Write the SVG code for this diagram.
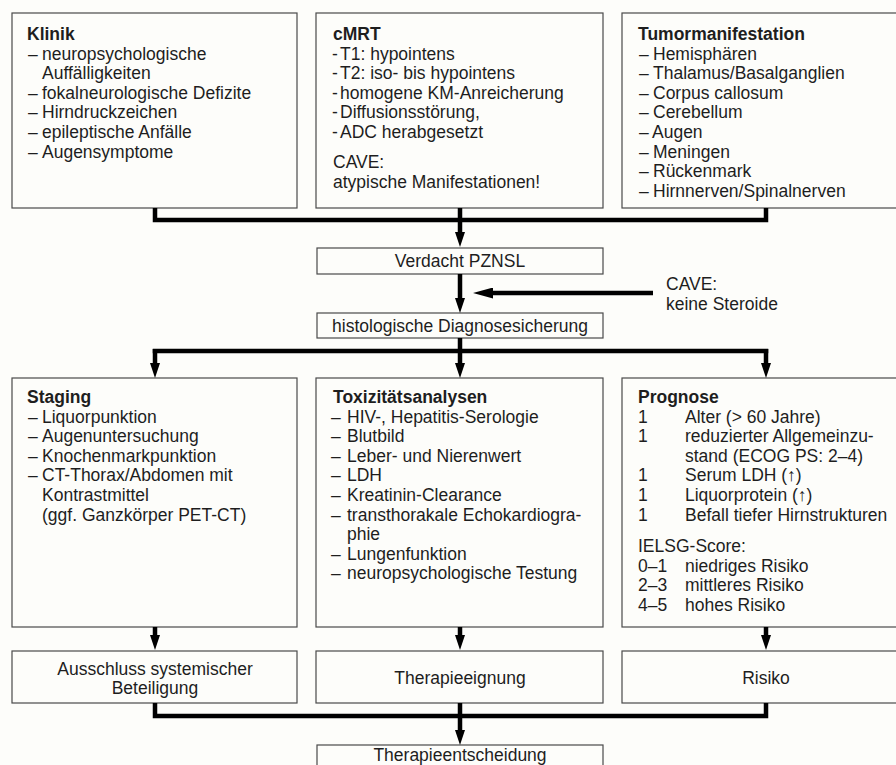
<svg xmlns="http://www.w3.org/2000/svg" width="896" height="765" viewBox="0 0 896 765">
<style>
.box{fill:#fdfdfa;stroke:#4a4a4a;stroke-width:1.2}
text{font-family:"Liberation Sans",Arial,sans-serif;font-size:17.5px;fill:#1e1e1e}
.b{font-weight:bold}
.c{text-anchor:middle}
.ln{fill:none;stroke:#000;stroke-width:4.5}
</style>
<defs>
<marker id="ah" markerUnits="userSpaceOnUse" markerWidth="15" markerHeight="10" refX="1" refY="5" orient="auto">
<path d="M0,0 L15,5 L0,10 z" fill="#000"/>
</marker>
<marker id="ah2" markerUnits="userSpaceOnUse" markerWidth="20" markerHeight="11" refX="1" refY="5.5" orient="auto">
<path d="M0,0 L20,5.5 L0,11 z" fill="#000"/>
</marker>
</defs>
<rect x="0" y="0" width="896" height="765" fill="#fdfdfa"/>

<g id="klinik">
<rect class="box" x="12" y="13" width="285" height="195"/>
<text class="b" x="27" y="40">Klinik</text>
<text x="28" y="59.6">–</text><text x="42" y="59.6">neuropsychologische</text>
<text x="42" y="79.2">Auffälligkeiten</text>
<text x="28" y="98.8">–</text><text x="42" y="98.8">fokalneurologische Defizite</text>
<text x="28" y="118.4">–</text><text x="42" y="118.4">Hirndruckzeichen</text>
<text x="28" y="138">–</text><text x="42" y="138">epileptische Anfälle</text>
<text x="28" y="157.6">–</text><text x="42" y="157.6">Augensymptome</text>
</g>

<g id="cmrt">
<rect class="box" x="316" y="13" width="287" height="195"/>
<text class="b" x="333" y="40">cMRT</text>
<text x="332" y="59.6">-</text><text x="340" y="59.6">T1: hypointens</text>
<text x="332" y="79.2">-</text><text x="340" y="79.2">T2: iso- bis hypointens</text>
<text x="332" y="98.8">-</text><text x="340" y="98.8">homogene KM-Anreicherung</text>
<text x="332" y="118.4">-</text><text x="340" y="118.4">Diffusionsstörung,</text>
<text x="332" y="138">-</text><text x="340" y="138">ADC herabgesetzt</text>
<text x="333" y="168">CAVE:</text>
<text x="333" y="187.6">atypische Manifestationen!</text>
</g>

<g id="tumor">
<rect class="box" x="622" y="13" width="288" height="195"/>
<text class="b" x="638" y="40">Tumormanifestation</text>
<text x="639" y="59.6">–</text><text x="653" y="59.6">Hemisphären</text>
<text x="639" y="79.2">–</text><text x="653" y="79.2">Thalamus/Basalganglien</text>
<text x="639" y="98.8">–</text><text x="653" y="98.8">Corpus callosum</text>
<text x="639" y="118.4">–</text><text x="653" y="118.4">Cerebellum</text>
<text x="639" y="138">–</text><text x="652" y="138">Augen</text>
<text x="639" y="157.6">–</text><text x="653" y="157.6">Meningen</text>
<text x="639" y="177.2">–</text><text x="653" y="177.2">Rückenmark</text>
<text x="639" y="196.8">–</text><text x="653" y="196.8">Hirnnerven/Spinalnerven</text>
</g>

<g id="verdacht">
<rect class="box" x="317" y="248" width="286" height="26"/>
<text class="c" x="460" y="267">Verdacht PZNSL</text>
</g>

<g id="cave">
<text x="666" y="290">CAVE:</text>
<text x="666" y="310">keine Steroide</text>
</g>

<g id="histologie">
<rect class="box" x="317" y="313" width="286" height="25"/>
<text class="c" x="460" y="332">histologische Diagnosesicherung</text>
</g>

<g id="staging">
<rect class="box" x="12" y="378" width="285" height="249"/>
<text class="b" x="27" y="403">Staging</text>
<text x="28" y="422.6">–</text><text x="42" y="422.6">Liquorpunktion</text>
<text x="28" y="442.2">–</text><text x="42" y="442.2">Augenuntersuchung</text>
<text x="28" y="461.8">–</text><text x="42" y="461.8">Knochenmarkpunktion</text>
<text x="28" y="481.4">–</text><text x="42" y="481.4">CT-Thorax/Abdomen mit</text>
<text x="42" y="501">Kontrastmittel</text>
<text x="42" y="520.6">(ggf. Ganzkörper PET-CT)</text>
</g>

<g id="toxizitaet">
<rect class="box" x="316" y="378" width="287" height="249"/>
<text class="b" x="333" y="403">Toxizitätsanalysen</text>
<text x="331" y="422.6">–</text><text x="347" y="422.6">HIV-, Hepatitis-Serologie</text>
<text x="331" y="442.2">–</text><text x="347" y="442.2">Blutbild</text>
<text x="331" y="461.8">–</text><text x="347" y="461.8">Leber- und Nierenwert</text>
<text x="331" y="481.4">–</text><text x="347" y="481.4">LDH</text>
<text x="331" y="501">–</text><text x="347" y="501">Kreatinin-Clearance</text>
<text x="331" y="520.6">–</text><text x="347" y="520.6">transthorakale Echokardiogra-</text>
<text x="347" y="540.2">phie</text>
<text x="331" y="559.8">–</text><text x="347" y="559.8">Lungenfunktion</text>
<text x="331" y="579.4">–</text><text x="347" y="579.4">neuropsychologische Testung</text>
</g>

<g id="prognose">
<rect class="box" x="622" y="378" width="288" height="249"/>
<text class="b" x="638" y="403">Prognose</text>
<text x="638" y="422.6">1</text><text x="685" y="422.6">Alter (&gt; 60 Jahre)</text>
<text x="638" y="442.2">1</text><text x="685" y="442.2">reduzierter Allgemeinzu-</text>
<text x="685" y="461.8">stand (ECOG PS: 2–4)</text>
<text x="638" y="481.4">1</text><text x="685" y="481.4">Serum LDH (↑)</text>
<text x="638" y="501">1</text><text x="685" y="501">Liquorprotein (↑)</text>
<text x="638" y="520.6">1</text><text x="685" y="520.6">Befall tiefer Hirnstrukturen</text>
<text x="638" y="552">IELSG-Score:</text>
<text x="638" y="571.6">0–1</text><text x="685" y="571.6">niedriges Risiko</text>
<text x="638" y="591.2">2–3</text><text x="685" y="591.2">mittleres Risiko</text>
<text x="638" y="610.8">4–5</text><text x="685" y="610.8">hohes Risiko</text>
</g>

<g id="ausschluss">
<rect class="box" x="12" y="651" width="285" height="52"/>
<text class="c" x="155" y="675">Ausschluss systemischer</text>
<text class="c" x="155" y="694">Beteiligung</text>
</g>

<g id="therapieeignung">
<rect class="box" x="316" y="651" width="287" height="52"/>
<text class="c" x="460" y="684">Therapieeignung</text>
</g>

<g id="risiko">
<rect class="box" x="622" y="651" width="288" height="52"/>
<text class="c" x="766" y="684">Risiko</text>
</g>

<g id="therapieentscheidung">
<rect class="box" x="317" y="745" width="286" height="30"/>
<text class="c" x="460" y="761">Therapieentscheidung</text>
</g>

<g id="connectors">
<path class="ln" d="M155,208 V220 H766 V208"/>
<path class="ln" d="M460,208 V233" marker-end="url(#ah)"/>
<path class="ln" d="M460,274 V299" marker-end="url(#ah)"/>
<path class="ln" d="M653,293 H492" marker-end="url(#ah2)"/>
<path class="ln" d="M460,338 V364" marker-end="url(#ah)"/>
<path class="ln" d="M152.75,351 H768.25"/>
<path class="ln" d="M155,349 V364" marker-end="url(#ah)"/>
<path class="ln" d="M766,349 V364" marker-end="url(#ah)"/>
<path class="ln" d="M155,627 V636" marker-end="url(#ah)"/>
<path class="ln" d="M460,627 V636" marker-end="url(#ah)"/>
<path class="ln" d="M766,627 V636" marker-end="url(#ah)"/>
<path class="ln" d="M155,703 V716 H766 V703"/>
<path class="ln" d="M460,703 V731" marker-end="url(#ah)"/>
</g>
</svg>
